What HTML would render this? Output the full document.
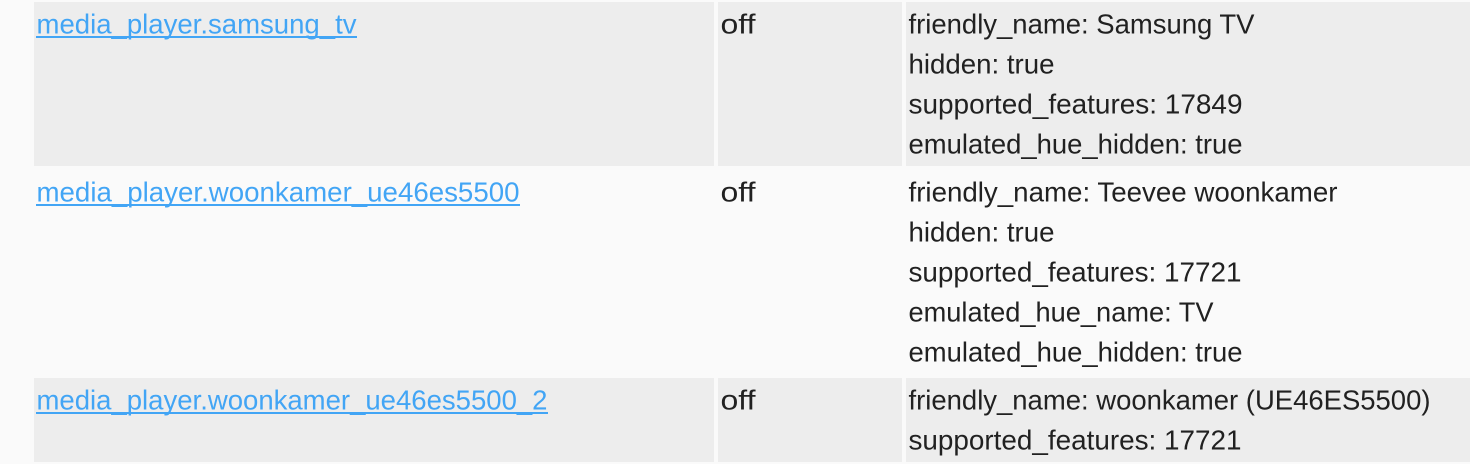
<!DOCTYPE html>
<html>
<head>
<meta charset="utf-8">
<style>
html,body{margin:0;padding:0;background:#fafafa;width:1470px;height:464px;overflow:hidden}
svg{display:block}
text{font-family:"Liberation Sans",sans-serif;font-size:28px;fill:#212121}
.l{fill:#42a5f5}
</style>
</head>
<body>
<svg width="1470" height="464" viewBox="0 0 1470 464" xmlns="http://www.w3.org/2000/svg">
<rect width="1470" height="464" fill="#fafafa"/>
<g fill="#ededed">
<rect x="34" y="2" width="680" height="164"/>
<rect x="718" y="2" width="184" height="164"/>
<rect x="906" y="2" width="564" height="164"/>
<rect x="34" y="378" width="680" height="84"/>
<rect x="718" y="378" width="184" height="84"/>
<rect x="906" y="378" width="564" height="84"/>
</g>
<g fill="#42a5f5">
<rect x="36" y="36" width="321" height="2"/>
<rect x="36" y="204" width="484" height="2"/>
<rect x="36" y="412" width="512" height="2"/>
</g>
<g>
<text class="l" x="36.5" y="33.5" textLength="320" lengthAdjust="spacingAndGlyphs">media_player.samsung_tv</text>
<text class="l" x="36.5" y="201.5" textLength="483" lengthAdjust="spacingAndGlyphs">media_player.woonkamer_ue46es5500</text>
<text class="l" x="36.5" y="409.5" textLength="511" lengthAdjust="spacingAndGlyphs">media_player.woonkamer_ue46es5500_2</text>
<text x="720.5" y="33.5" textLength="35" lengthAdjust="spacingAndGlyphs">off</text>
<text x="720.5" y="201.5" textLength="35" lengthAdjust="spacingAndGlyphs">off</text>
<text x="720.5" y="409.5" textLength="35" lengthAdjust="spacingAndGlyphs">off</text>
<text x="908.5" y="33.5" textLength="346" lengthAdjust="spacingAndGlyphs">friendly_name: Samsung TV</text>
<text x="908.5" y="73.5" textLength="146" lengthAdjust="spacingAndGlyphs">hidden: true</text>
<text x="908.5" y="113.5" textLength="334" lengthAdjust="spacingAndGlyphs">supported_features: 17849</text>
<text x="908.5" y="153.5" textLength="334" lengthAdjust="spacingAndGlyphs">emulated_hue_hidden: true</text>
<text x="908.5" y="201.5" textLength="429" lengthAdjust="spacingAndGlyphs">friendly_name: Teevee woonkamer</text>
<text x="908.5" y="241.5" textLength="146" lengthAdjust="spacingAndGlyphs">hidden: true</text>
<text x="908.5" y="281.5" textLength="333" lengthAdjust="spacingAndGlyphs">supported_features: 17721</text>
<text x="908.5" y="321.5" textLength="305" lengthAdjust="spacingAndGlyphs">emulated_hue_name: TV</text>
<text x="908.5" y="361.5" textLength="334" lengthAdjust="spacingAndGlyphs">emulated_hue_hidden: true</text>
<text x="908.5" y="409.5" textLength="522" lengthAdjust="spacingAndGlyphs">friendly_name: woonkamer (UE46ES5500)</text>
<text x="908.5" y="449.5" textLength="333" lengthAdjust="spacingAndGlyphs">supported_features: 17721</text>
</g>
</svg>
</body>
</html>
